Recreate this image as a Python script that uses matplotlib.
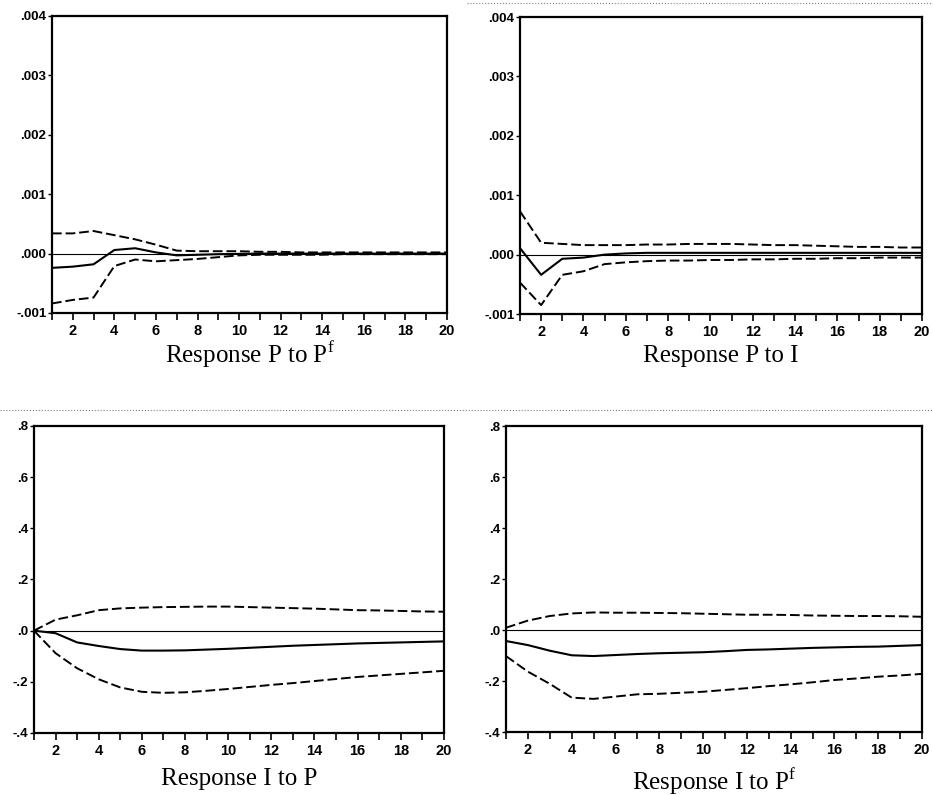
import numpy as np
import matplotlib
matplotlib.use("Agg")
import matplotlib.pyplot as plt
from matplotlib.ticker import FuncFormatter, MultipleLocator

plt.rcParams['mathtext.fontset'] = 'custom'
plt.rcParams['mathtext.rm'] = 'Liberation Serif'

# Forecast horizon
periods = np.arange(1, 21)

# Response P to P^f (mid, +2 S.E., -2 S.E.)
p_pf_resp = [-0.00024, -0.00022, -0.00018, 0.00006, 0.00009, 0.00002, -0.00003, -0.00002, -0.00001, -0.000005,
             0.0, 0.0, 0.0, 0.0, 0.0, 0.0, 0.0, 0.0, 0.0, 0.0]
p_pf_upper = [0.00034, 0.00034, 0.00038, 0.00031, 0.00024, 0.00015, 0.00005, 0.00004, 0.00004, 0.00004,
              0.00003, 0.00003, 0.00002, 0.00002, 0.00002, 0.00002, 0.00002, 0.00002, 0.00002, 0.00002]
p_pf_lower = [-0.00084, -0.00078, -0.00074, -0.00021, -0.0001, -0.00013, -0.00011, -0.00009, -0.00006, -0.00003,
              -0.00002, -0.00002, -0.00002, -0.00002, -0.00001, -0.00001, -0.00001, -0.00001, -0.00001, -0.00001]

# Response P to I
p_i_resp = [0.00011, -0.00034, -0.00007, -0.00005, 0.0, 0.00002, 0.00003, 0.00003, 0.00003, 0.00003,
            0.00003, 0.00003, 0.00003, 0.00003, 0.00003, 0.00003, 0.00003, 0.00003, 0.00003, 0.00003]
p_i_upper = [0.00073, 0.0002, 0.00018, 0.00016, 0.00016, 0.00016, 0.00017, 0.00017, 0.00018, 0.00018,
             0.00018, 0.00017, 0.00016, 0.00016, 0.00015, 0.00014, 0.00013, 0.00013, 0.00012, 0.00012]
p_i_lower = [-0.00047, -0.00085, -0.00034, -0.00028, -0.00016, -0.00013, -0.00011, -0.0001, -0.0001, -0.00009,
             -0.00009, -0.00008, -0.00008, -0.00007, -0.00007, -0.00006, -0.00006, -0.00005, -0.00005, -0.00005]

# Response I to P
i_p_resp = [0.0, -0.01, -0.046, -0.06, -0.072, -0.078, -0.078, -0.077, -0.074, -0.071,
            -0.067, -0.063, -0.059, -0.056, -0.053, -0.05, -0.048, -0.046, -0.044, -0.042]
i_p_upper = [0.0, 0.043, 0.06, 0.08, 0.087, 0.09, 0.092, 0.093, 0.094, 0.094,
             0.092, 0.09, 0.088, 0.086, 0.083, 0.08, 0.079, 0.077, 0.075, 0.074]
i_p_lower = [0.0, -0.088, -0.147, -0.19, -0.222, -0.239, -0.243, -0.241, -0.235, -0.228,
             -0.22, -0.212, -0.205, -0.197, -0.189, -0.181, -0.175, -0.169, -0.163, -0.157]

# Response I to P^f
i_pf_resp = [-0.043, -0.059, -0.081, -0.099, -0.102, -0.098, -0.094, -0.091, -0.089, -0.087,
             -0.083, -0.078, -0.076, -0.073, -0.07, -0.068, -0.066, -0.065, -0.062, -0.059]
i_pf_upper = [0.009, 0.037, 0.055, 0.065, 0.069, 0.068, 0.068, 0.067, 0.066, 0.064,
              0.062, 0.06, 0.06, 0.059, 0.057, 0.056, 0.055, 0.055, 0.054, 0.052]
i_pf_lower = [-0.102, -0.163, -0.211, -0.265, -0.27, -0.261, -0.252, -0.25, -0.246, -0.242,
              -0.235, -0.228, -0.22, -0.213, -0.205, -0.196, -0.19, -0.183, -0.178, -0.172]


def no_lead_zero(decimals):
    def fmt(v, pos):
        s = f"{v:.{decimals}f}"
        return s.replace("0.", ".", 1) if abs(v) < 1 else s
    return FuncFormatter(fmt)


def draw_panel(ax, resp, upper, lower, ylim, ystep, decimals, title, title_y):
    ax.axhline(0, color='black', lw=0.8)
    ax.plot(periods, upper, color='black', lw=1.4, ls=(0, (5, 2)))
    ax.plot(periods, lower, color='black', lw=1.4, ls=(0, (5, 2)))
    ax.plot(periods, resp, color='black', lw=1.5)
    ax.set_xlim(1, 20)
    ax.set_ylim(*ylim)
    ax.set_xticks(range(1, 21))
    ax.set_xticklabels([str(i) if i % 2 == 0 else '' for i in range(1, 21)])
    ax.yaxis.set_major_locator(MultipleLocator(ystep))
    ax.yaxis.set_major_formatter(no_lead_zero(decimals))
    ax.tick_params(axis='x', direction='out', length=5, width=1.2, pad=3,
                   labelsize=10.5)
    ax.tick_params(axis='y', direction='out', length=3, width=1.0, pad=1,
                   labelsize=9.5)
    for lab in ax.get_xticklabels() + ax.get_yticklabels():
        lab.set_fontfamily('Liberation Sans')
        lab.set_fontweight('bold')
    for sp in ax.spines.values():
        sp.set_linewidth(1.6)
    ax.text(0.5, title_y, title, transform=ax.transAxes, ha='center', va='center',
            fontsize=18, family='Liberation Serif')


fig = plt.figure(figsize=(9.33, 7.95), dpi=100)

ax1 = fig.add_axes([0.0557, 0.6063, 0.4234, 0.3736])
ax2 = fig.add_axes([0.5573, 0.6050, 0.4309, 0.3736])
ax3 = fig.add_axes([0.0364, 0.0780, 0.4394, 0.3862])
ax4 = fig.add_axes([0.5423, 0.0792, 0.4459, 0.3849])

draw_panel(ax1, p_pf_resp, p_pf_upper, p_pf_lower, (-0.001, 0.004), 0.001, 3,
           r'Response P to P$^{\mathrm{f}}$', -0.14)
draw_panel(ax2, p_i_resp, p_i_upper, p_i_lower, (-0.001, 0.004), 0.001, 3,
           'Response P to I', -0.14)
draw_panel(ax3, i_p_resp, i_p_upper, i_p_lower, (-0.4, 0.8), 0.2, 1,
           'Response I to P', -0.15)
draw_panel(ax4, i_pf_resp, i_pf_upper, i_pf_lower, (-0.4, 0.8), 0.2, 1,
           r'Response I to P$^{\mathrm{f}}$', -0.16)

# dotted separators from the scanned page
fig.add_artist(plt.Line2D([0, 1], [1 - 410 / 795] * 2, color='gray', lw=0.8, ls=':'))
fig.add_artist(plt.Line2D([467 / 933, 1], [1 - 3 / 795] * 2, color='gray', lw=0.8, ls=':'))

fig.savefig('out.png', dpi=100)
